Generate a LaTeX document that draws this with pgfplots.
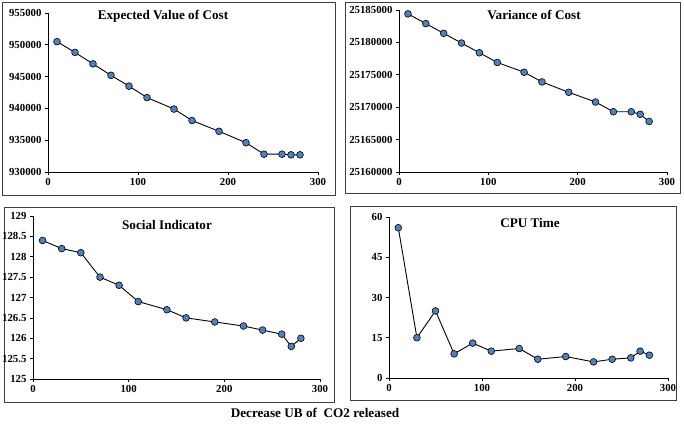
\documentclass[border=0pt]{standalone}
\usepackage{fontspec}
\setmainfont{Liberation Serif}
\usepackage{pgfplots}
\pgfplotsset{compat=1.18}
\definecolor{mk}{RGB}{79,129,189}
\pgfplotsset{
  panel/.style={
    scale only axis,
    anchor=south west,
    axis lines=left,
    axis line style={-, black, line width=0.8pt},
    tick align=outside,
    tick style={black, line width=0.6pt},
    major tick length=3pt,
    xmin=0, xmax=300,
    xtick={0,100,200,300},
    scaled ticks=false,
    /pgf/number format/assume math mode=true,
    tick label style={font=\bfseries\fontsize{10.8}{11}\selectfont},
    clip=false,
  },
  ser/.style={black, line width=0.9pt, mark=*, mark size=3.4pt,
    mark options={fill=mk, draw=black, line width=0.6pt}},
}
\begin{document}
\begin{tikzpicture}[x=1pt,y=1pt]
\useasboundingbox (0,0) rectangle (684,425);
% frames
\draw[line width=0.8pt, black!75] (2,230) rectangle (335,423);
\draw[line width=0.8pt, black!75] (345,232) rectangle (680,423);
\draw[line width=0.8pt, black!75] (4,23) rectangle (334,218);
\draw[line width=0.8pt, black!75] (350,25) rectangle (676,219);

% Expected value of cost
\begin{axis}[panel, at={(48pt,253pt)}, width=270pt, height=159pt,
  ymin=930000, ymax=955000,
  ytick={930000,935000,940000,945000,950000,955000},
  yticklabels={930000,935000,940000,945000,950000,955000}]
\addplot[ser] coordinates {
(10,950500) (30,948800) (50,947000) (70,945200) (90,943500) (110,941700)
(140,939900) (160,938100) (190,936400) (220,934600) (240,932800)
(260,932800) (270,932700) (280,932700)};
\end{axis}

% Variance of cost
\begin{axis}[panel, at={(399pt,253pt)}, width=268pt, height=162pt,
  ymin=25160000, ymax=25185000,
  ytick={25160000,25165000,25170000,25175000,25180000,25185000},
  yticklabels={25160000,25165000,25170000,25175000,25180000,25185000}]
\addplot[ser] coordinates {
(10,25184400) (30,25182900) (50,25181400) (70,25179900) (90,25178400)
(110,25176900) (140,25175400) (160,25173900) (190,25172300) (220,25170800)
(240,25169300) (260,25169300) (270,25168900) (280,25167800)};
\end{axis}

% Social indicator
\begin{axis}[panel, at={(33pt,46pt)}, width=287pt, height=163pt,
  ymin=125, ymax=129,
  ytick={125,125.5,126,126.5,127,127.5,128,128.5,129},
  yticklabels={125,125.5,126,126.5,127,127.5,128,128.5,129}]
\addplot[ser] coordinates {
(10,128.4) (30,128.2) (50,128.1) (70,127.5) (90,127.3) (110,126.9)
(140,126.7) (160,126.5) (190,126.4) (220,126.3) (240,126.2)
(260,126.1) (270,125.8) (280,126.0)};
\end{axis}

% CPU time
\begin{axis}[panel, at={(389pt,47pt)}, width=279pt, height=161pt,
  ymin=0, ymax=60,
  ytick={0,15,30,45,60},
  yticklabels={0,15,30,45,60}]
\addplot[ser] coordinates {
(10,56) (30,15) (50,25) (70,9) (90,13) (110,10)
(140,11) (160,7) (190,8) (220,6) (240,7)
(260,7.5) (270,10) (280,8.5)};
\end{axis}

% titles
\begin{scope}[every node/.style={font=\bfseries\fontsize{13.2}{14}\selectfont}]
\node at (163,409) {Expected Value of Cost};
\node at (534,410) {Variance of Cost};
\node at (167,200) {Social Indicator};
\node at (530,202) {CPU Time};
\node at (315,12) {Decrease UB of\ \ CO2 released};
\end{scope}
\end{tikzpicture}
\end{document}
